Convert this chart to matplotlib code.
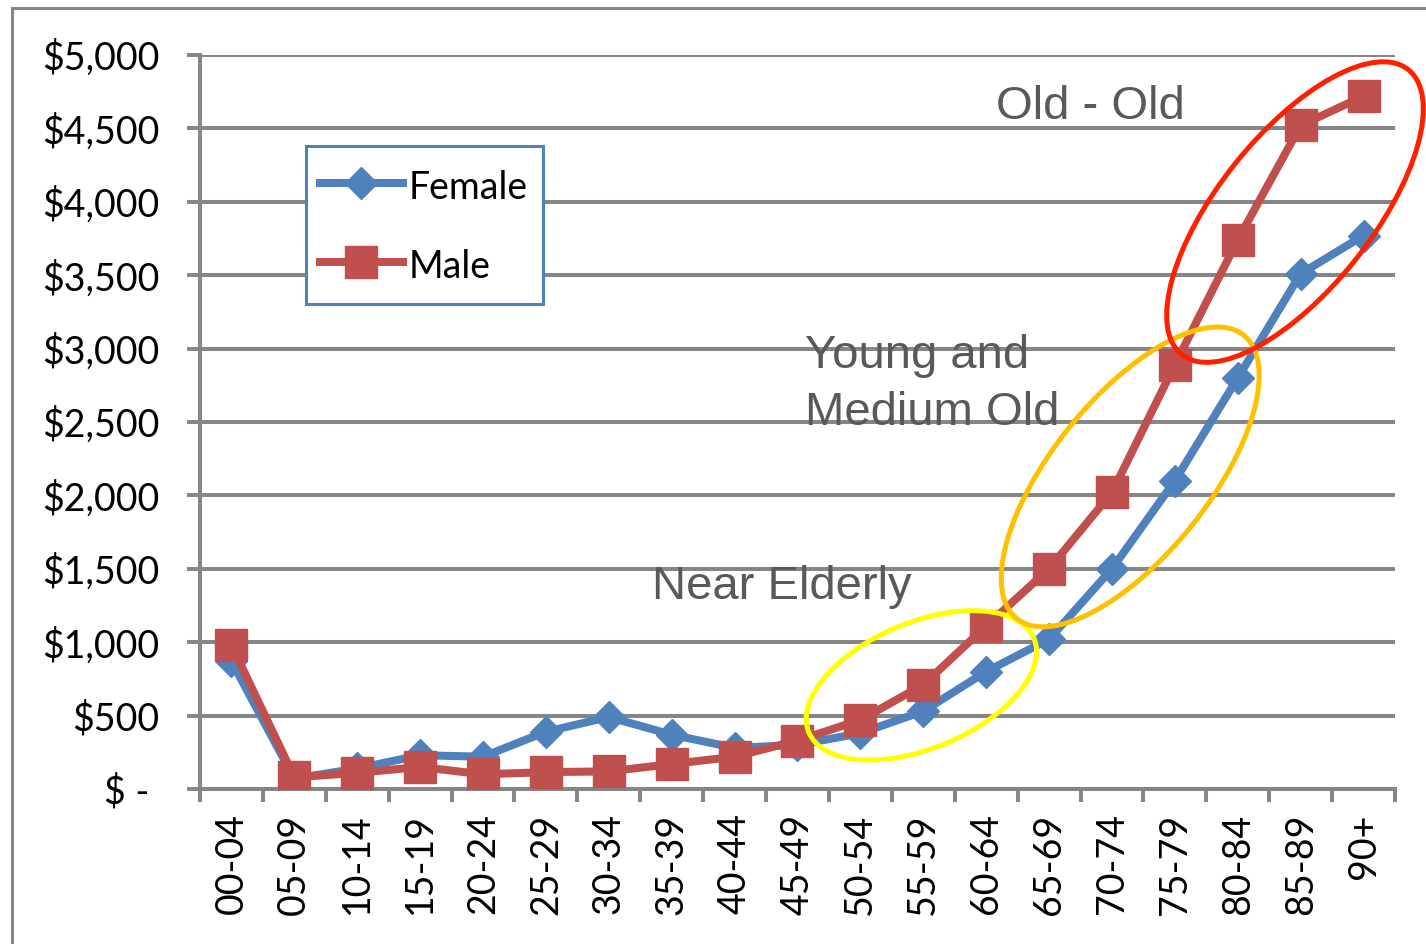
import numpy as np
import matplotlib
matplotlib.use('Agg')
import matplotlib.pyplot as plt
from matplotlib.patches import Ellipse, Rectangle
import matplotlib.transforms as mtrans

ages = ['00-04', '05-09', '10-14', '15-19', '20-24', '25-29', '30-34', '35-39', '40-44',
        '45-49', '50-54', '55-59', '60-64', '65-69', '70-74', '75-79', '80-84', '85-89', '90+']
female = [870, 70, 140, 230, 220, 390, 490, 370, 280, 300, 380, 530, 800, 1020,
          1500, 2100, 2800, 3510, 3770]
male = [980, 80, 110, 150, 100, 115, 120, 170, 220, 330, 470, 710, 1110, 1500,
        2020, 2890, 3740, 4520, 4720]
yticks = [0, 500, 1000, 1500, 2000, 2500, 3000, 3500, 4000, 4500, 5000]
ylabels = ['$ - ', '$500', '$1,000', '$1,500', '$2,000', '$2,500', '$3,000',
           '$3,500', '$4,000', '$4,500', '$5,000']

blue = '#4F81BD'
red = '#C0504D'
grey = '#868686'
tick_font = 'Lato'

fig = plt.figure(figsize=(14.26, 9.44), dpi=100)
ax = fig.add_axes([200/1426, 1-789/944, 1195/1426, 734/944])

x = np.arange(len(ages))
ax.plot(x, female, color=blue, lw=5.8, marker='D', ms=16.5, mec=blue, mfc=blue,
        label='Female', zorder=3)
ax.plot(x, male, color=red, lw=5.8, marker='s', ms=23, mec=red, mfc=red,
        label='Male', zorder=4)

ax.set_xlim(-0.5, len(ages) - 0.5)
ax.set_ylim(0, 5000)
ax.set_yticks(yticks)
ax.set_yticklabels(ylabels, fontsize=27, family=tick_font)
ax.set_xticks(x)
ax.set_xticklabels(ages, rotation=90, fontsize=27, family=tick_font)
ax.set_xticks(np.arange(-0.5, len(ages)), minor=True)
ax.tick_params(axis='x', which='major', length=0, pad=17.5)
ax.tick_params(axis='x', which='minor', length=9.4, width=2.9, color=grey)
ax.tick_params(axis='y', length=9.4, width=2.9, color=grey, pad=20)
ax.grid(axis='y', color=grey, lw=2.9, zorder=0)
ax.set_axisbelow(True)
for s in ['top', 'right']:
    ax.spines[s].set_visible(False)
for s in ['left', 'bottom']:
    ax.spines[s].set_color(grey)
    ax.spines[s].set_linewidth(2.9)

# annotation ellipses (sizes in inches, centred on data positions)
def ring(xc, yc, w, h, ang, col):
    tr = fig.dpi_scale_trans + mtrans.ScaledTranslation(xc, yc, ax.transData)
    e = Ellipse((0, 0), w, h, angle=ang, fill=False, edgecolor=col, lw=3.6,
                transform=tr, zorder=6, clip_on=False)
    ax.add_patch(e)

ring(10.97, 706, 2.44, 1.26, 22.6, '#FFFF00')
ring(14.29, 2126, 3.63, 1.57, 51.3, '#FFC000')
ring(16.91, 3930, 3.64, 1.54, 51.5, '#FF2000')

txt = dict(color='#595959', fontsize=34, family='Liberation Sans', va='center', ha='left')
ax.text(12.15, 4646, 'Old - Old', **txt)
ax.text(9.12, 2755, 'Young and\nMedium Old', linespacing=1.38, **txt)
ax.text(6.69, 1376, 'Near Elderly', **txt)

# legend box drawn separately so its size can be set
box = Rectangle((306/1426, 1-304/944), 237/1426, 158/944, transform=fig.transFigure,
                facecolor='white', edgecolor=blue, lw=2.2, zorder=9, clip_on=False)
ax.add_patch(box)
leg = ax.legend(loc='upper left', bbox_to_anchor=(320/1426, 1-167/944),
                bbox_transform=fig.transFigure, frameon=False,
                prop={'family': tick_font, 'size': 27},
                handlelength=2.2, handleheight=1.25, handletextpad=0.15,
                labelspacing=1.04, borderpad=0, borderaxespad=0)
leg.set_zorder(10)

# outer chart border
fig.patches.append(Rectangle((12/1426, -0.1), 1.2, 1.1 - 8/944, fill=False,
                             edgecolor=grey, lw=2.2, transform=fig.transFigure))

fig.savefig('out.png', dpi=100)
